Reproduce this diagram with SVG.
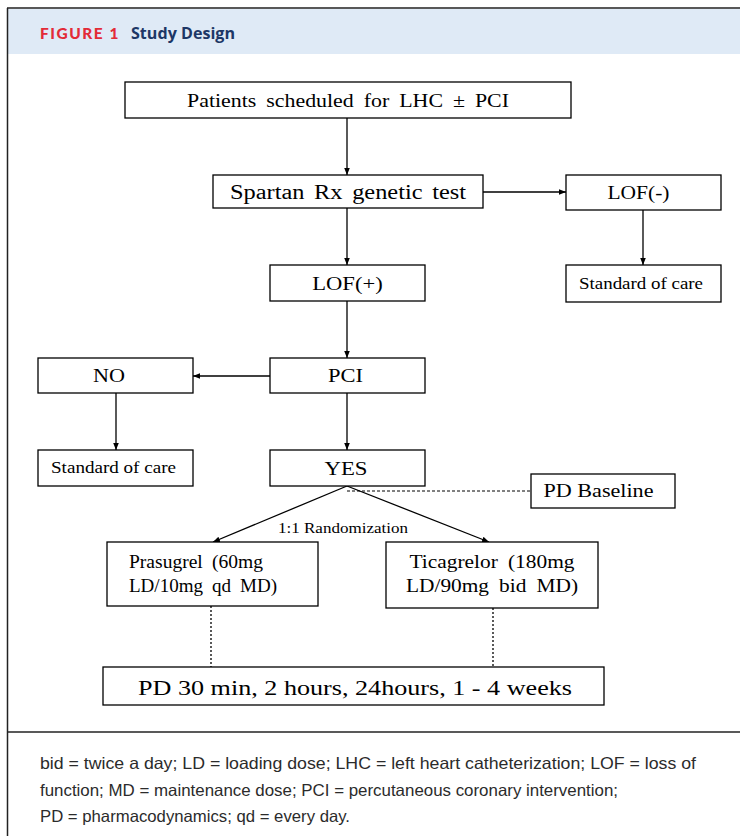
<svg xmlns="http://www.w3.org/2000/svg" width="740" height="836" viewBox="0 0 740 836">
<style>
.box{fill:#fff;stroke:#000;stroke-width:1.3}
.t{font-family:"Liberation Serif","Times New Roman",serif;fill:#000;text-anchor:middle}
.l{font-family:"Liberation Serif","Times New Roman",serif;fill:#000;font-size:18px}
.ln{stroke:#000;stroke-width:1.3;fill:none}
.dot{stroke:#000;stroke-width:1.3;fill:none;stroke-dasharray:2 2}
.cap{font-family:"Liberation Sans",Arial,sans-serif;font-size:16.5px;fill:#2b2b2b}
</style>
<defs>
<marker id="ah" viewBox="0 0 10 10" refX="10" refY="5" markerWidth="7" markerHeight="7" orient="auto" markerUnits="userSpaceOnUse">
<path d="M0,1 L10,5 L0,9 z" fill="#000"/>
</marker>
</defs>
<rect x="0" y="0" width="740" height="836" fill="#fff"/>
<rect x="8" y="9" width="732" height="45" fill="#dfeaf6"/>
<path d="M7,8 H740 M7.5,8 V836" stroke="#222" stroke-width="1.5" fill="none"/>
<line x1="7" y1="732" x2="740" y2="732" stroke="#222" stroke-width="1.5"/>
<text x="40" y="39" font-family="Lato,'Liberation Sans',sans-serif" font-weight="900" font-size="15" letter-spacing="1.5" fill="#e32b37" textLength="80" lengthAdjust="spacingAndGlyphs">FIGURE 1</text>
<text x="131" y="39" font-family="'Open Sans','Liberation Sans',sans-serif" font-weight="bold" font-size="16.5" fill="#1d3766" textLength="104" lengthAdjust="spacingAndGlyphs">Study Design</text>

<g id="connectors">
<line class="ln" x1="347" y1="118" x2="347" y2="175" marker-end="url(#ah)"/>
<line class="ln" x1="483" y1="192" x2="566" y2="192" marker-end="url(#ah)"/>
<line class="ln" x1="643" y1="210" x2="643" y2="265" marker-end="url(#ah)"/>
<line class="ln" x1="347" y1="208" x2="347" y2="265" marker-end="url(#ah)"/>
<line class="ln" x1="347" y1="301" x2="347" y2="358" marker-end="url(#ah)"/>
<line class="ln" x1="270" y1="376" x2="193" y2="376" marker-end="url(#ah)"/>
<line class="ln" x1="116" y1="393" x2="116" y2="450" marker-end="url(#ah)"/>
<line class="ln" x1="347" y1="393" x2="347" y2="450" marker-end="url(#ah)"/>
<line class="ln" x1="347" y1="486" x2="213" y2="542" marker-end="url(#ah)"/>
<line class="ln" x1="347" y1="486" x2="489" y2="542" marker-end="url(#ah)"/>
<line x1="347" y1="491" x2="531" y2="491" stroke="#000" stroke-width="1" stroke-dasharray="3 2"/>
<line class="dot" x1="211" y1="606" x2="211" y2="667"/>
<line class="dot" x1="493" y1="608" x2="493" y2="667"/>
<text class="t" font-size="15.5" x="343" y="533" textLength="130" lengthAdjust="spacingAndGlyphs">1:1 Randomization</text>
</g>

<g id="patients"><rect class="box" x="125" y="82" width="446" height="36"/><text class="t" font-size="19.5" x="348" y="107" textLength="322" lengthAdjust="spacingAndGlyphs" word-spacing="4">Patients scheduled for LHC ± PCI</text></g>
<g id="spartan"><rect class="box" x="213" y="175" width="270" height="33"/><text class="t" font-size="20.5" x="348" y="199" textLength="236" lengthAdjust="spacingAndGlyphs" word-spacing="3">Spartan Rx genetic test</text></g>
<g id="lofneg"><rect class="box" x="566" y="175" width="155" height="35"/><text class="t" font-size="18.5" x="638.5" y="199" textLength="62" lengthAdjust="spacingAndGlyphs">LOF(-)</text></g>
<g id="soc-right"><rect class="box" x="566" y="265" width="155" height="37"/><text class="t" font-size="17" x="641" y="289" textLength="124" lengthAdjust="spacingAndGlyphs">Standard of care</text></g>
<g id="lofpos"><rect class="box" x="270" y="265" width="155" height="36"/><text class="t" font-size="18.5" x="347.5" y="290" textLength="70.5" lengthAdjust="spacingAndGlyphs">LOF(+)</text></g>
<g id="pci"><rect class="box" x="270" y="358" width="155" height="35"/><text class="t" font-size="18.5" x="345.5" y="382" textLength="35" lengthAdjust="spacingAndGlyphs">PCI</text></g>
<g id="no"><rect class="box" x="38" y="358" width="155" height="35"/><text class="t" font-size="18.5" x="109" y="382" textLength="32" lengthAdjust="spacingAndGlyphs">NO</text></g>
<g id="soc-left"><rect class="box" x="38" y="450" width="155" height="36"/><text class="t" font-size="17" x="113.5" y="473" textLength="125" lengthAdjust="spacingAndGlyphs">Standard of care</text></g>
<g id="yes"><rect class="box" x="270" y="450" width="155" height="36"/><text class="t" font-size="18.5" x="346" y="475" textLength="43" lengthAdjust="spacingAndGlyphs">YES</text></g>
<g id="pdbaseline"><rect class="box" x="531" y="474" width="144" height="34"/><text class="t" font-size="18.5" x="598.5" y="497" textLength="110" lengthAdjust="spacingAndGlyphs">PD Baseline</text></g>
<g id="prasugrel"><rect class="box" x="107" y="542" width="211" height="64"/><text class="l" x="129" y="568" textLength="134" lengthAdjust="spacingAndGlyphs" word-spacing="4">Prasugrel (60mg</text><text class="l" x="129" y="592" textLength="148" lengthAdjust="spacingAndGlyphs" word-spacing="4">LD/10mg qd MD)</text></g>
<g id="ticagrelor"><rect class="box" x="386" y="542" width="212" height="66"/><text class="t" font-size="18" x="492" y="568" textLength="165" lengthAdjust="spacingAndGlyphs" word-spacing="4">Ticagrelor (180mg</text><text class="t" font-size="18" x="492" y="592" textLength="172" lengthAdjust="spacingAndGlyphs" word-spacing="4">LD/90mg bid MD)</text></g>
<g id="pdtimes"><rect class="box" x="103" y="667" width="501" height="38"/><text class="t" font-size="21" x="355" y="695" textLength="434" lengthAdjust="spacingAndGlyphs">PD 30 min, 2 hours, 24hours, 1 - 4 weeks</text></g>

<text class="cap" x="40" y="769" textLength="656" lengthAdjust="spacingAndGlyphs">bid = twice a day; LD = loading dose; LHC = left heart catheterization; LOF = loss of</text>
<text class="cap" x="40" y="796" textLength="578" lengthAdjust="spacingAndGlyphs">function; MD = maintenance dose; PCI = percutaneous coronary intervention;</text>
<text class="cap" x="40" y="822" textLength="310" lengthAdjust="spacingAndGlyphs">PD = pharmacodynamics; qd = every day.</text>
</svg>
